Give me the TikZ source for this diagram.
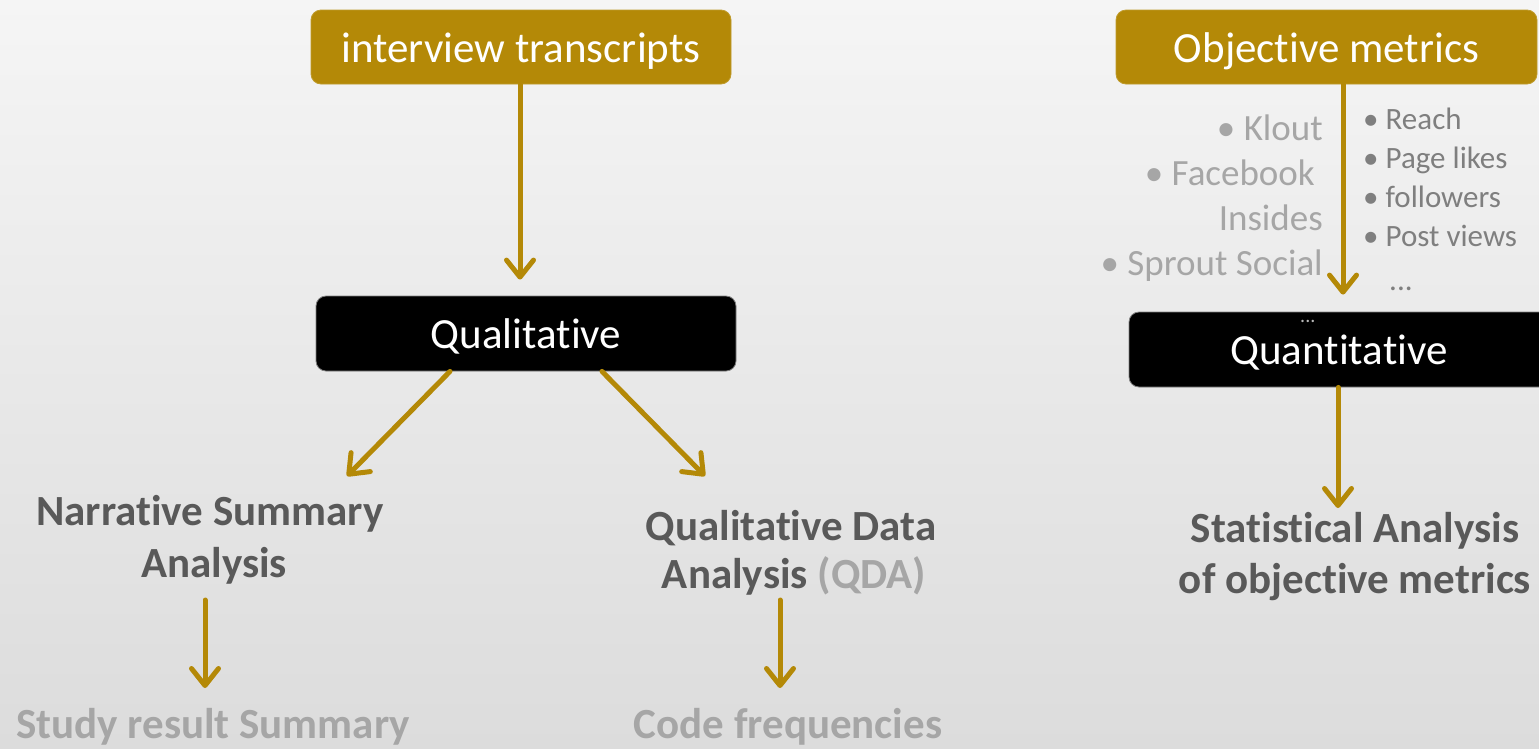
\documentclass[tikz,border=0pt]{standalone}
\usepackage{fontspec}
\setmainfont{Carlito}[Ligatures=NoCommon]
\usetikzlibrary{arrows.meta}
\definecolor{gold}{RGB}{180,137,7}
\definecolor{darktext}{RGB}{89,89,89}
\definecolor{lighttext}{RGB}{166,166,166}
\definecolor{midtext}{RGB}{127,127,127}
\definecolor{bgtop}{RGB}{245,245,245}
\definecolor{bgbottom}{RGB}{220,220,220}
\tikzset{
  boxbase/.style={rounded corners=10pt, line width=0.8pt, minimum width=420pt,
    text=white, inner sep=0pt, text height=32pt, text depth=2pt,
    font=\fontsize{43}{50}\selectfont},
  goldbox/.style={boxbase, fill=gold, draw=gold!85!white, minimum height=74pt},
  blackbox/.style={boxbase, fill=black, draw=gray, minimum height=75pt},
  arr/.style={draw=gold, line width=5pt, line cap=round,
    -{Straight Barb[length=17pt, width=27pt, line cap=round, line join=round]}},
  headline/.style={anchor=base, inner sep=0pt, text=darktext,
    font=\fontsize{43}{50}\selectfont\bfseries},
  resultline/.style={anchor=base, inner sep=0pt, text=lighttext,
    font=\fontsize{43}{50}\selectfont\bfseries},
  leftitem/.style={anchor=base east, inner sep=0pt, text=lighttext,
    font=\fontsize{37}{44}\selectfont},
  rightitem/.style={anchor=base west, inner sep=0pt, text=midtext,
    font=\fontsize{31}{38}\selectfont},
}
\begin{document}
\begin{tikzpicture}[x=1pt, y=-1pt]
  % page background
  \shade[top color=bgtop, bottom color=bgbottom] (0,0) rectangle (1539,748);
  \useasboundingbox (0,0) rectangle (1539,748);

  % ---- qualitative branch ----
  \node[goldbox] (trans) at (521,47) {interview transcripts};
  \node[blackbox] (qual) at (526,333.5) {Qualitative};
  \draw[arr, shorten >=16pt] ([xshift=-1pt]trans.south) -- ([xshift=-6pt]qual.north);

  \node[headline] (nsa1) at (210,525.5) {Narrative Summary};
  \node[headline] (nsa2) at (214,577.5) {Analysis};
  \node[resultline] (study) at (213,738) {Study result Summary};

  \node[headline] (qda1) at (791,540) {Qualitative Data};
  \node[headline] (qda2) at (794,588.5) {Analysis \textcolor{lighttext}{(QDA)}};
  \node[resultline] (codes) at (788,738) {Code frequencies};

  \coordinate (nsaTip) at (347,476);
  \coordinate (qdaTip) at (705,476);
  \draw[arr] ([xshift=-76pt]qual.south) -- (nsaTip);
  \draw[arr] ([xshift=76pt]qual.south) -- (qdaTip);

  \coordinate (studyTop) at (205,600);
  \coordinate (studyTip) at (205,688);
  \coordinate (codesTop) at (780,600);
  \coordinate (codesTip) at (780,688);
  \draw[arr] (studyTop) -- (studyTip);
  \draw[arr] (codesTop) -- (codesTip);

  % ---- quantitative branch ----
  \node[goldbox, minimum width=421pt] (obj) at (1326.5,47) {Objective metrics};
  \node[blackbox] (quant) at (1339,349.5) {Quantitative};
  \draw[arr, shorten >=17pt] ([xshift=16.5pt]obj.south) -- ([xshift=4pt]quant.north);

  % tools on the left of the arrow
  \node[leftitem] (klout) at (1323,140) {\textbullet\ Klout};
  \node[leftitem] (fb) at (1315,185) {\textbullet\ Facebook};
  \node[leftitem] (fbi) at (1323,230) {Insides};
  \node[leftitem] (sprout) at (1323,275) {\textbullet\ Sprout Social};

  % measures on the right of the arrow
  \node[rightitem] (reach) at (1363,129.5) {\textbullet\ Reach};
  \node[rightitem] (likes) at (1363,168.5) {\textbullet\ Page likes};
  \node[rightitem] (foll) at (1363,207.5) {\textbullet\ followers};
  \node[rightitem] (views) at (1363,246) {\textbullet\ Post views};
  \node[rightitem] (more) at (1389,290) {...};
  \node[anchor=base west, inner sep=0pt, text=gray!55, font=\fontsize{20}{24}\selectfont] (more2) at (1300,322) {...};

  \node[headline] (stat1) at (1355,542) {Statistical Analysis};
  \node[headline] (stat2) at (1355,593) {of objective metrics};
  \coordinate (statTip) at (1338,508);
  \draw[arr] ([xshift=-1pt]quant.south) -- (statTip);
\end{tikzpicture}
\end{document}
